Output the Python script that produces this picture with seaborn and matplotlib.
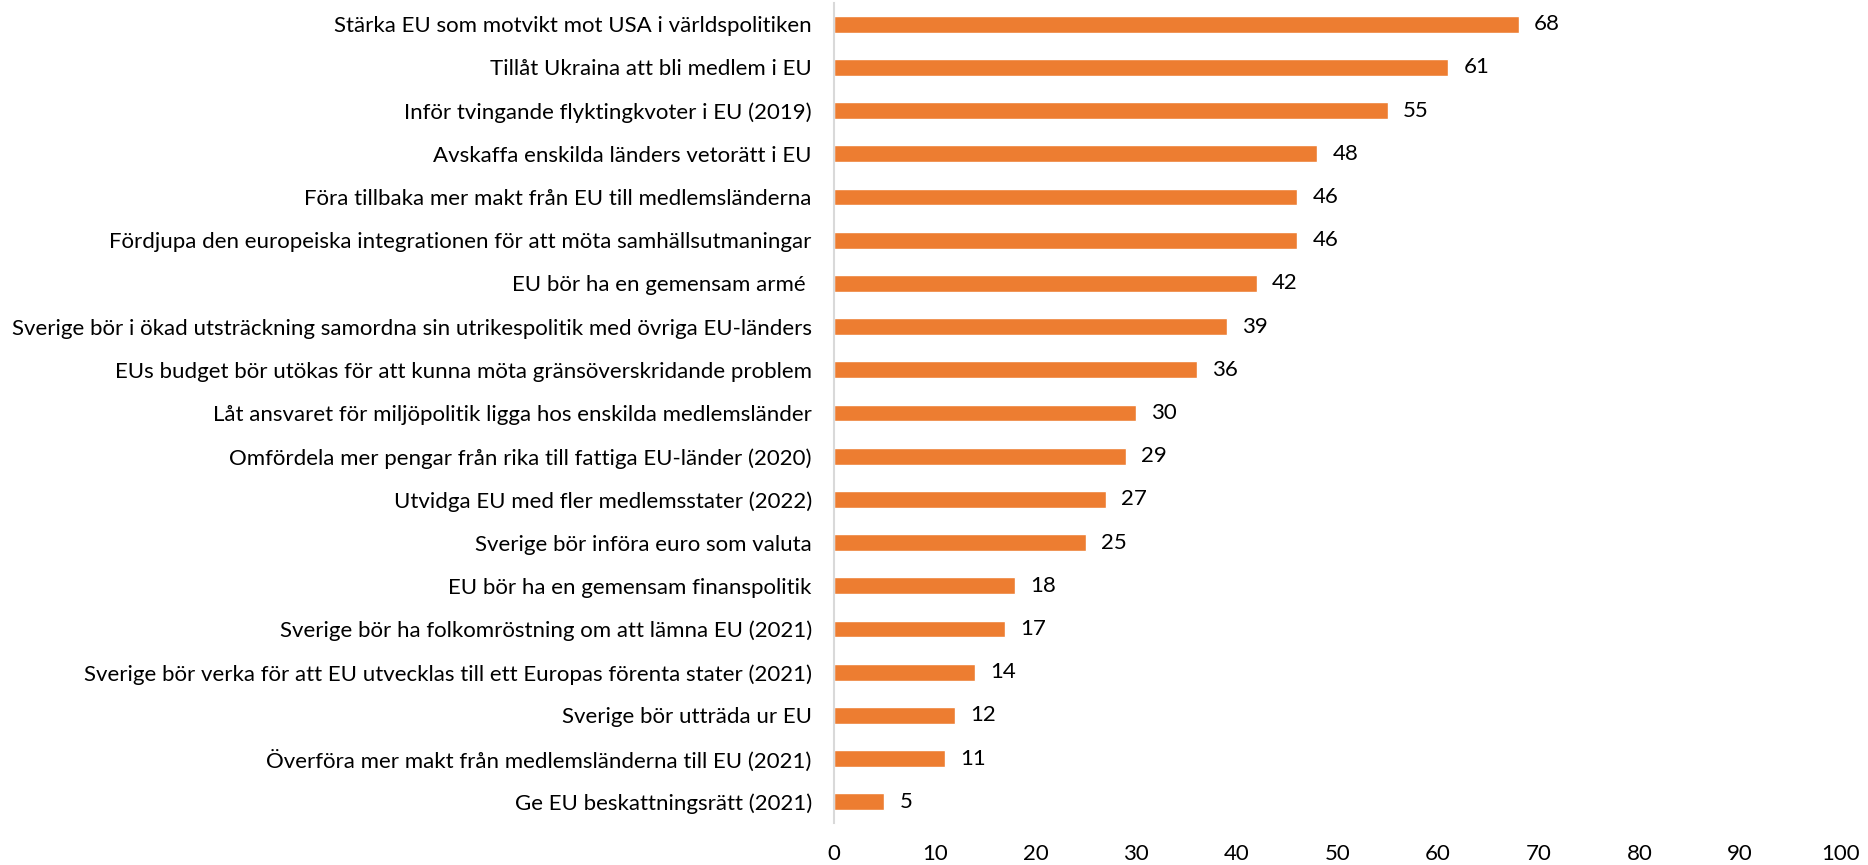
import matplotlib
matplotlib.use("Agg")
import matplotlib.pyplot as plt
import seaborn as sns
import pandas as pd

categories = [
    "Stärka EU som motvikt mot USA i världspolitiken",
    "Tillåt Ukraina att bli medlem i EU",
    "Inför tvingande flyktingkvoter i EU (2019)",
    "Avskaffa enskilda länders vetorätt i EU",
    "Föra tillbaka mer makt från EU till medlemsländerna",
    "Fördjupa den europeiska integrationen för att möta samhällsutmaningar",
    "EU bör ha en gemensam armé ",
    "Sverige bör i ökad utsträckning samordna sin utrikespolitik med övriga EU-länders",
    "EUs budget bör utökas för att kunna möta gränsöverskridande problem",
    "Låt ansvaret för miljöpolitik ligga hos enskilda medlemsländer",
    "Omfördela mer pengar från rika till fattiga EU-länder (2020)",
    "Utvidga EU med fler medlemsstater (2022)",
    "Sverige bör införa euro som valuta",
    "EU bör ha en gemensam finanspolitik",
    "Sverige bör ha folkomröstning om att lämna EU (2021)",
    "Sverige bör verka för att EU utvecklas till ett Europas förenta stater (2021)",
    "Sverige bör utträda ur EU",
    "Överföra mer makt från medlemsländerna till EU (2021)",
    "Ge EU beskattningsrätt (2021)",
]
values = [68, 61, 55, 48, 46, 46, 42, 39, 36, 30, 29, 27, 25, 18, 17, 14, 12, 11, 5]
x_ticks = [0, 10, 20, 30, 40, 50, 60, 70, 80, 90, 100]

df = pd.DataFrame({"cat": categories, "val": values})

sns.set_theme(style="white")
plt.rcParams["font.family"] = ["Lato", "DejaVu Sans"]

fig = plt.figure(figsize=(18.68, 8.65), dpi=100)
ax = fig.add_axes([0.4465, 0.048, 0.5390, 0.949])

sns.barplot(data=df, x="val", y="cat", color="#ED7D31", width=0.39,
            saturation=1, ax=ax, orient="h")

ax.set_xlim(0, 100)
ax.set_xticks(x_ticks)
ax.set_xticklabels([str(t) for t in x_ticks], fontsize=16, color="#000000")
ax.set_xlabel("")
ax.set_ylabel("")
ax.tick_params(axis="y", labelsize=16, length=0, pad=16, colors="#000000")
ax.tick_params(axis="x", length=0, pad=15)

for s in ["top", "right", "bottom"]:
    ax.spines[s].set_visible(False)
ax.spines["left"].set_color("#D9D9D9")
ax.spines["left"].set_linewidth(1.5)

for i, v in enumerate(values):
    ax.text(v + 1.5, i, str(v), va="center", ha="left", fontsize=16, color="#000000")

fig.savefig("out.png", dpi=100)
